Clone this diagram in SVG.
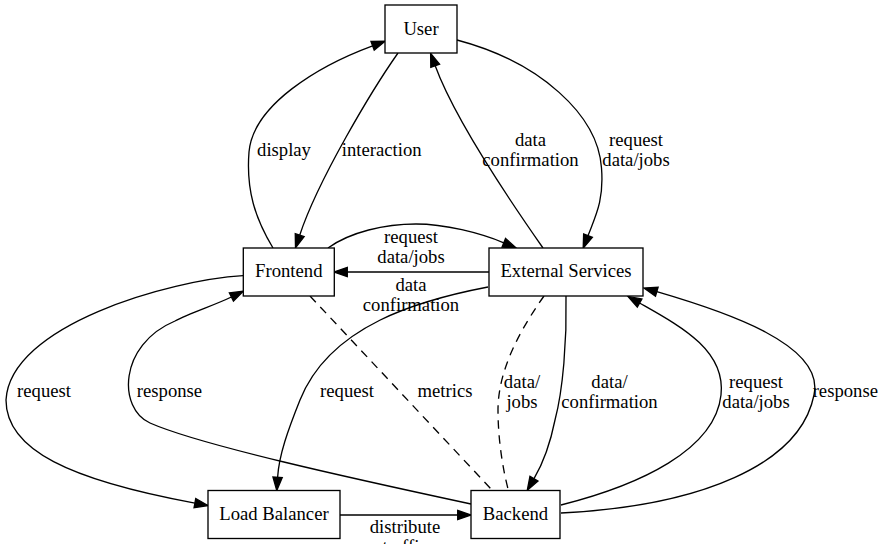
<svg xmlns="http://www.w3.org/2000/svg" width="886" height="544" viewBox="0 0 886 544">
<style>
.node rect{fill:#ffffff;stroke:#000000;stroke-width:1.33}
.node text{font-family:"Liberation Serif","Times New Roman",serif;font-size:18.67px;fill:#000000;text-anchor:middle}
.edge path{fill:none;stroke:#000000;stroke-width:1.33}
.edge path.arr{marker-end:url(#ah)}
.edge path.dash{stroke-dasharray:8.5,6.5}
.lbl text{font-family:"Liberation Serif","Times New Roman",serif;font-size:18.67px;fill:#000000;text-anchor:middle}
</style>
<defs>
<marker id="ah" markerUnits="userSpaceOnUse" markerWidth="15" markerHeight="11" refX="0" refY="5" orient="auto" overflow="visible">
<path d="M0,0.33 L13.33,5 L0,9.67 Z" fill="#000000" stroke="#000000" stroke-width="1.33"/>
</marker>
</defs>
<rect width="886" height="544" fill="#ffffff"/>
<g id="edges" class="edge">
<path class="arr" d="M273,248 C255,218 246,190 249,152 C253,105 318,66 372.6,45.8"/>
<path class="arr" d="M398,53 C372,90 318,180 299.7,235.2"/>
<path class="arr" d="M543,248 C515,208 455,120 435.2,65.8"/>
<path class="arr" d="M457,40 C540,62 598,115 601.5,168 C604,200 596,215 588,235.7"/>
<path class="arr" d="M328,248 C350,232 385,224 416,224 C445,224 480,233 503.8,242.8"/>
<path class="arr" d="M489,272 L347.3,272"/>
<path class="arr" d="M243,275.7 C170,280 10,325 6,400 C6,450 70,480 194.9,503.1"/>
<path class="arr" d="M471,504 C350,478 200,445 150,423 C118,409 118,345 175,321 C190,313 215,305 231.4,297"/>
<path class="arr" d="M488,287 C420,300 330,325 300,400 C288,430 279,455 277.6,477.3"/>
<path class="dash" d="M310,296 L492,490"/>
<path class="arr" d="M340,515 L457.7,515"/>
<path class="dash" d="M544,296 C520,330 498,370 498,410 C498,440 503,470 508.3,490"/>
<path class="arr" d="M566,296 C567,340 563,390 555,420 C550,445 542,465 534,478.7"/>
<path class="arr" d="M561,505 C640,485 715,450 721,395 C726,350 680,326 639.6,303"/>
<path class="arr" d="M561,513 C700,506 800,465 814,395 C825,345 726.8,312.1 656.8,291.7"/>
</g>
<g id="labels" class="lbl">
<text x="284" y="156">display</text>
<text x="381.7" y="156">interaction</text>
<text x="530.5" y="145.7">data</text>
<text x="530.5" y="165.7">confirmation</text>
<text x="636" y="145.7">request</text>
<text x="636" y="165.7">data/jobs</text>
<text x="411" y="243.3">request</text>
<text x="411" y="262.8">data/jobs</text>
<text x="411" y="290.7">data</text>
<text x="411" y="310.7">confirmation</text>
<text x="44" y="397.3">request</text>
<text x="169.5" y="397.3">response</text>
<text x="347" y="397.3">request</text>
<text x="445" y="397.3">metrics</text>
<text x="522" y="388.3">data/</text>
<text x="522" y="407.5">jobs</text>
<text x="609.5" y="388.3">data/</text>
<text x="609.5" y="407.5">confirmation</text>
<text x="756" y="388.3">request</text>
<text x="756" y="407.5">data/jobs</text>
<text x="845.3" y="397.3">response</text>
<text x="405" y="533.3">distribute</text>
<text x="405" y="553">traffic</text>
</g>
<g id="node-user" class="node"><rect x="385" y="5" width="72" height="48"/><text x="421" y="34.5">User</text></g>
<g id="node-frontend" class="node"><rect x="243.3" y="248" width="91" height="48"/><text x="288.8" y="276.7">Frontend</text></g>
<g id="node-external" class="node"><rect x="489" y="248" width="154" height="48"/><text x="566" y="276.7">External Services</text></g>
<g id="node-lb" class="node"><rect x="208" y="490.5" width="132" height="48"/><text x="274" y="519.5">Load Balancer</text></g>
<g id="node-backend" class="node"><rect x="471" y="490.5" width="89" height="48"/><text x="515.5" y="519.5">Backend</text></g>
</svg>
